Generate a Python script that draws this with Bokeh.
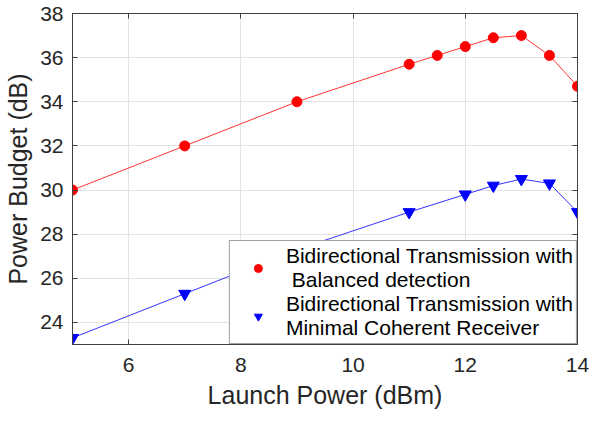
from bokeh.plotting import figure
from bokeh.models import LinearAxis, FixedTicker, Range1d, Legend, LegendItem
from bokeh.embed import file_html
from bokeh.resources import INLINE

# data
x_bal = [5, 7, 9, 11, 11.5, 12, 12.5, 13, 13.5, 14]
y_bal = [30.0, 32.0, 34.0, 35.7, 36.1, 36.5, 36.9, 37.0, 36.1, 34.7]
x_min = [5, 7, 9, 11, 12, 12.5, 13, 13.5, 14]
y_min = [23.3, 25.3, 27.3, 29.0, 29.8, 30.2, 30.5, 30.3, 29.0]
x_ticks = [6, 8, 10, 12, 14]
y_ticks = [24, 26, 28, 30, 32, 34, 36, 38]
label_bal = "Bidirectional Transmission with\n Balanced detection"
label_min = "Bidirectional Transmission with\nMinimal Coherent Receiver"

FONT = "Liberation Sans"
TXT = "#262626"
AX = "#404040"

p = figure(width=589, height=413, output_backend="svg", toolbar_location=None,
           x_range=Range1d(5, 14), y_range=Range1d(23, 38),
           min_border_left=72, min_border_right=12, min_border_top=13, min_border_bottom=69,
           x_axis_label="Launch Power (dBm)", y_axis_label="Power Budget (dB)")
p.background_fill_color = "white"
p.outline_line_color = AX
p.outline_line_width = 1

for ax, tk in ((p.xaxis[0], x_ticks), (p.yaxis[0], y_ticks)):
    ax.ticker = FixedTicker(ticks=tk)
    ax.minor_tick_line_color = None
    ax.major_tick_in = 5
    ax.major_tick_out = 0
    ax.axis_line_color = AX
    ax.major_tick_line_color = AX
    ax.major_label_text_font = FONT
    ax.major_label_text_font_size = "21px"
    ax.major_label_text_color = TXT
    ax.axis_label_text_font = FONT
    ax.axis_label_text_font_size = "25px"
    ax.axis_label_text_font_style = "normal"
    ax.axis_label_text_color = TXT

p.xaxis[0].major_label_standoff = 13
p.xaxis[0].axis_label_standoff = 6
p.yaxis[0].major_label_standoff = 9
p.yaxis[0].axis_label_standoff = 5

for side, tk in (("right", y_ticks), ("above", x_ticks)):
    a = LinearAxis(ticker=FixedTicker(ticks=tk))
    a.minor_tick_line_color = None
    a.major_tick_in = 5
    a.major_tick_out = 0
    a.axis_line_color = AX
    a.major_tick_line_color = AX
    a.major_label_text_font_size = "1px"
    a.major_label_text_color = None
    a.major_label_standoff = 0
    p.add_layout(a, side)

p.xgrid.ticker = FixedTicker(ticks=x_ticks)
p.ygrid.ticker = FixedTicker(ticks=y_ticks)
p.grid.grid_line_color = "#e3e3e3"
p.grid.grid_line_width = 1

p.line(x_bal, y_bal, line_color="#ff3333", line_width=1)
r1 = p.scatter(x_bal, y_bal, marker="circle", size=10, fill_color="red", line_color="red")
p.line(x_min, y_min, line_color="#3333ff", line_width=1)
r2 = p.scatter(x_min, y_min, marker="inverted_triangle", size=12, fill_color="blue", line_color="blue")

legend = Legend(items=[LegendItem(label=label_bal, renderers=[r1]),
                       LegendItem(label=label_min, renderers=[r2])],
                location="bottom_right")
legend.label_text_font = FONT
legend.label_text_font_size = "21px"
legend.label_text_color = "black"
legend.label_text_line_height = 1.32
legend.border_line_color = AX
legend.border_line_width = 1
legend.background_fill_color = "white"
legend.background_fill_alpha = 1
legend.padding = 3
legend.spacing = 0
legend.margin = 0
legend.glyph_width = 50
legend.glyph_height = 20
legend.label_standoff = 3
p.add_layout(legend, "center")

open("out.html", "w").write(file_html(p, INLINE))
